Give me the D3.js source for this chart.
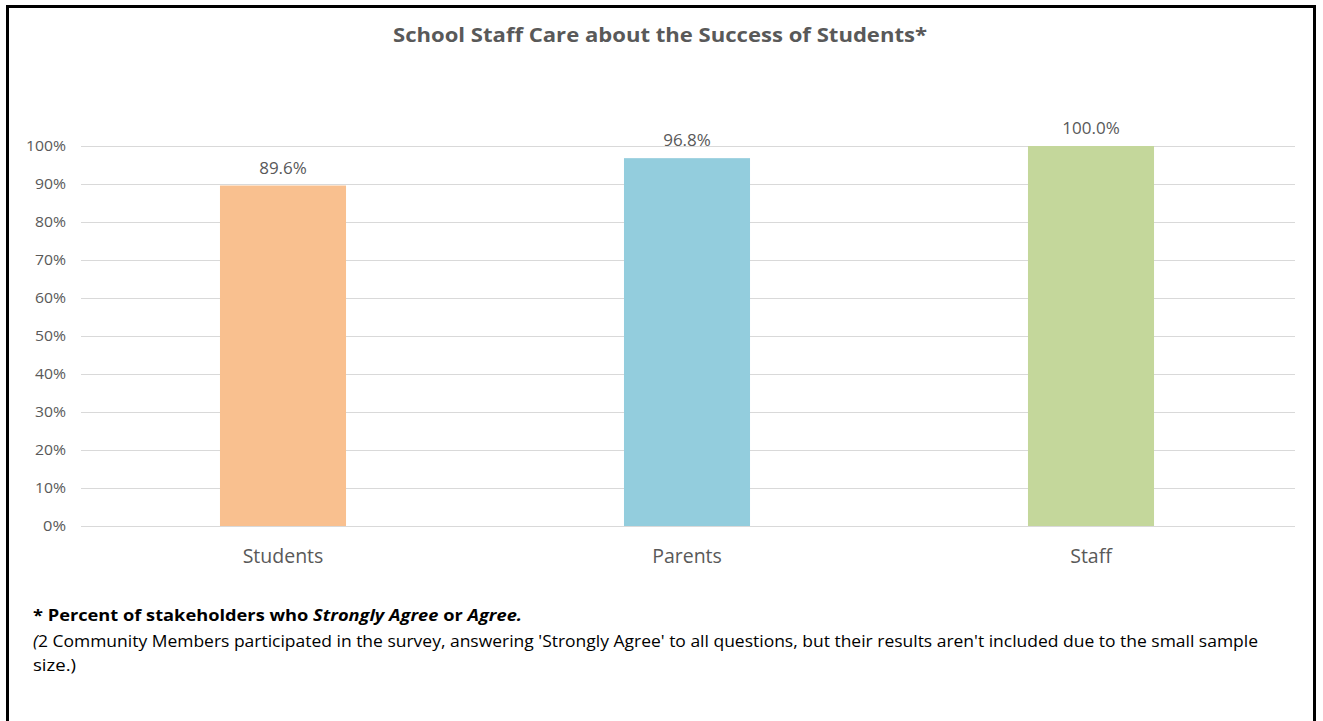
<!DOCTYPE html>
<html><head><meta charset="utf-8">
<script src="https://cdn.jsdelivr.net/npm/d3@7"></script>
<style>body{margin:0;background:#fff}svg{display:block}</style>
</head><body>
<svg id="chart" width="1323" height="721"></svg>
<script>
const categories = ["Students", "Parents", "Staff"];
const values = [89.6, 96.8, 100.0];
const barColors = ["#F9C08F", "#93CDDD", "#C4D79B"];
const yTicks = [0, 10, 20, 30, 40, 50, 60, 70, 80, 90, 100];
const title = "School Staff Care about the Success of Students*";

(function () {
const svg = d3.select("#chart");
// outer frame
svg.append("rect").attr("x", 7.5).attr("y", 6.5).attr("width", 1307).attr("height", 730)
  .attr("fill", "#fff").attr("stroke", "#000").attr("stroke-width", 3);

const pLeft = 81, pRight = 1293, pTop = 146, pBottom = 526;
const x = d3.scaleBand().domain(categories).range([pLeft, pRight]).padding(0);
const y = d3.scaleLinear().domain([0, 100]).range([pBottom, pTop]);
const barW = x.bandwidth() * 0.312;

// gridlines
svg.append("g").selectAll("line").data(yTicks).join("line")
  .attr("x1", pLeft).attr("x2", 1295)
  .attr("y1", d => y(d) + 0.5).attr("y2", d => y(d) + 0.5)
  .attr("stroke", "#D9D9D9").attr("stroke-width", 1);

// y axis labels
const yAxis = d3.axisLeft(y).tickValues(yTicks).tickFormat(d => d + "%").tickSize(0).tickPadding(0);
const ya = svg.append("g").attr("transform", `translate(66,0)`).call(yAxis);
ya.select(".domain").remove();
ya.selectAll("text").attr("font-family", "Open Sans").attr("font-size", 15).attr("fill", "#595959")
  .attr("textLength", 40).attr("lengthAdjust", "spacingAndGlyphs");
ya.selectAll("text").filter(d => d < 100).attr("textLength", 31);
ya.selectAll("text").filter(d => d === 0).attr("textLength", 23);

// bars
svg.append("g").selectAll("rect").data(values).join("rect")
  .attr("x", (d, i) => x(categories[i]) + x.bandwidth() / 2 - barW / 2)
  .attr("width", barW)
  .attr("y", d => y(d))
  .attr("height", d => pBottom - y(d))
  .attr("fill", (d, i) => barColors[i]);

// value labels
svg.append("g").selectAll("text").data(values).join("text")
  .attr("x", (d, i) => x(categories[i]) + x.bandwidth() / 2)
  .attr("y", d => y(d) - 12)
  .attr("text-anchor", "middle")
  .attr("font-family", "Open Sans").attr("font-size", 17).attr("fill", "#595959")
  .text(d => d.toFixed(1) + "%");

// x axis labels
const xAxis = d3.axisBottom(x).tickSize(0).tickPadding(0);
const xa = svg.append("g").attr("transform", `translate(0,${pBottom + 23})`).call(xAxis);
xa.select(".domain").remove();
xa.selectAll("text").attr("font-family", "Open Sans").attr("font-size", 19.5).attr("fill", "#595959");

// axis line at 0
svg.append("line").attr("x1", pLeft).attr("x2", 1295).attr("y1", pBottom + 0.5).attr("y2", pBottom + 0.5)
  .attr("stroke", "#D9D9D9");

// title
svg.append("text").attr("x", 660).attr("y", 42).attr("text-anchor", "middle")
  .attr("font-family", "Open Sans").attr("font-weight", "bold").attr("font-size", 20)
  .attr("fill", "#595959").attr("textLength", 534).attr("lengthAdjust", "spacingAndGlyphs")
  .text(title);

// footnotes
const f1 = svg.append("text").attr("x", 33).attr("y", 621)
  .attr("font-family", "Open Sans").attr("font-weight", "bold").attr("font-size", 16).attr("fill", "#000")
  .attr("textLength", 489).attr("lengthAdjust", "spacingAndGlyphs");
f1.append("tspan").text("* Percent of stakeholders  who ");
f1.append("tspan").attr("font-style", "italic").text("Strongly Agree");
f1.append("tspan").text(" or ");
f1.append("tspan").attr("font-style", "italic").text("Agree.");

const f2 = svg.append("text").attr("x", 33).attr("y", 647)
  .attr("font-family", "Open Sans").attr("font-size", 16).attr("fill", "#000")
  .attr("textLength", 1225).attr("lengthAdjust", "spacingAndGlyphs");
f2.append("tspan").attr("font-style", "italic").text("(");
f2.append("tspan").text("2 Community Members participated in the survey, answering 'Strongly Agree' to all questions, but their results aren't included due to the small sample");

svg.append("text").attr("x", 33).attr("y", 671)
  .attr("font-family", "Open Sans").attr("font-size", 16).attr("fill", "#000")
  .attr("textLength", 43).attr("lengthAdjust", "spacingAndGlyphs")
  .text("size.)");
})();
</script>
</body></html>
